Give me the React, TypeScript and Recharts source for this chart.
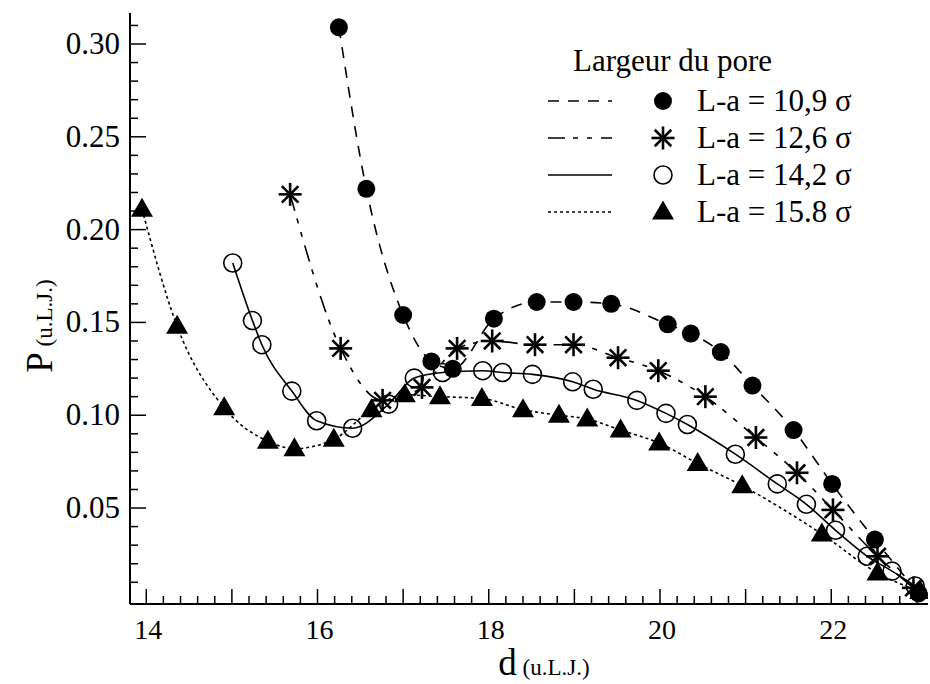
import { ComposedChart, Line, XAxis, YAxis } from 'recharts'

// L-a = 10,9 sigma (filled circles, dashed)
const d1 = [16.25, 16.57, 17.0, 17.33, 17.58, 18.06, 18.56, 18.99, 19.43, 20.09, 20.36, 20.71, 21.08, 21.56, 22.01, 22.51, 23.02]
const p1 = [0.309, 0.222, 0.154, 0.129, 0.125, 0.152, 0.161, 0.161, 0.160, 0.149, 0.144, 0.134, 0.116, 0.092, 0.063, 0.033, 0.004]

// L-a = 12,6 sigma (asterisks, dash-dot)
const d2 = [15.68, 16.27, 16.76, 17.22, 17.63, 18.04, 18.54, 18.99, 19.51, 19.98, 20.53, 21.12, 21.6, 22.02, 22.54, 22.96]
const p2 = [0.219, 0.136, 0.108, 0.115, 0.136, 0.14, 0.138, 0.138, 0.131, 0.124, 0.11, 0.088, 0.069, 0.049, 0.024, 0.007]

// L-a = 14,2 sigma (open circles, solid)
const d3 = [15.01, 15.24, 15.35, 15.7, 15.99, 16.41, 16.83, 17.13, 17.46, 17.93, 18.16, 18.51, 18.98, 19.22, 19.73, 20.07, 20.32, 20.88, 21.37, 21.71, 22.05, 22.42, 22.71, 22.98]
const p3 = [0.182, 0.151, 0.138, 0.113, 0.097, 0.093, 0.106, 0.12, 0.123, 0.124, 0.123, 0.122, 0.118, 0.114, 0.108, 0.101, 0.095, 0.079, 0.063, 0.052, 0.038, 0.024, 0.016, 0.008]

// L-a = 15.8 sigma (triangles, dotted)
const d4 = [13.95, 14.36, 14.91, 15.42, 15.73, 16.19, 16.63, 17.02, 17.43, 17.92, 18.4, 18.82, 19.15, 19.54, 19.99, 20.44, 20.96, 21.89, 22.54, 23.04]
const p4 = [0.211, 0.148, 0.104, 0.086, 0.082, 0.087, 0.103, 0.111, 0.11, 0.109, 0.103, 0.1, 0.098, 0.092, 0.085, 0.074, 0.062, 0.036, 0.015, 0.005]

const legendLabels = ['L-a = 10,9 σ', 'L-a = 12,6 σ', 'L-a = 14,2 σ', 'L-a = 15.8 σ']
const legendTitle = 'Largeur du pore'

// minor ticks: every 0.2 on d, every 0.01 on P
const xTicks = Array.from({ length: 46 }, (_, i) => Math.round((14 + i * 0.2) * 10) / 10)
const yTicks = Array.from({ length: 31 }, (_, i) => Math.round((0.01 + i * 0.01) * 100) / 100)

const serif = { fontFamily: "'Liberation Serif', 'Times New Roman', Times, serif" }

const toRows = (d: number[], p: number[]) => d.map((v, i) => ({ d: v, p: p[i] }))
const s1 = toRows(d1, p1)
const s2 = toRows(d2, p2)
const s3 = toRows(d3, p3)
const s4 = toRows(d4, p4)

const isMajorX = (v: number) => Math.abs(v - Math.round(v)) < 1e-6
const isMajorY = (v: number) => Math.abs(v * 20 - Math.round(v * 20)) < 1e-6

function BottomTick({ x, y, payload }: any) {
  const v = payload.value
  const major = isMajorX(v)
  const lab = major && Math.round(v) % 2 === 0
  return (
    <g>
      <line x1={x} y1={y} x2={x} y2={y - (major ? 15 : 8)} stroke="#000" strokeWidth={1.5} />
      {lab && (
        <text x={x + 2} y={y + 35} textAnchor="middle" fontSize={28} style={serif} fill="#000">
          {Math.round(v)}
        </text>
      )}
    </g>
  )
}

function TopTick({ x, y, payload }: any) {
  const major = isMajorX(payload.value)
  return <line x1={x} y1={y} x2={x} y2={y + (major ? 15 : 8)} stroke="#000" strokeWidth={1.5} />
}

function LeftTick({ x, y, payload }: any) {
  const v = payload.value
  const major = isMajorY(v)
  return (
    <g>
      <line x1={x} y1={y} x2={x + (major ? 16 : 8)} y2={y} stroke="#000" strokeWidth={1.5} />
      {major && (
        <text x={x - 10} y={y + 10} textAnchor="end" fontSize={31} style={serif} fill="#000">
          {v.toFixed(2)}
        </text>
      )}
    </g>
  )
}

function RightTick({ x, y, payload }: any) {
  const major = isMajorY(payload.value)
  return <line x1={x} y1={y} x2={x - (major ? 16 : 8)} y2={y} stroke="#000" strokeWidth={1.5} />
}

function FilledCircle({ cx, cy }: any) {
  return <circle cx={cx} cy={cy} r={9} fill="#000" />
}

function OpenCircle({ cx, cy }: any) {
  return <circle cx={cx} cy={cy} r={9} fill="none" stroke="#000" strokeWidth={1.6} />
}

function Star({ cx, cy }: any) {
  const r = 11.5
  const q = r * 0.72
  return (
    <g stroke="#000" strokeWidth={2.6}>
      <line x1={cx} y1={cy - r} x2={cx} y2={cy + r} />
      <line x1={cx - r} y1={cy} x2={cx + r} y2={cy} />
      <line x1={cx - q} y1={cy - q} x2={cx + q} y2={cy + q} />
      <line x1={cx - q} y1={cy + q} x2={cx + q} y2={cy - q} />
    </g>
  )
}

function Triangle({ cx, cy }: any) {
  return <polygon points={`${cx},${cy - 11.5} ${cx - 11},${cy + 7.5} ${cx + 11},${cy + 7.5}`} fill="#000" />
}

const dotFn = (Shape: any) => (props: any) => <Shape key={`${props.index}`} cx={props.cx} cy={props.cy} />

const dashes = ['11 9', '17 8 5 9 5 9', undefined, '3 3']
const shapes = [FilledCircle, Star, OpenCircle, Triangle]
const legendY = [101, 138, 175, 212]

export default function App() {
  return (
    <div style={{ position: 'absolute', left: 0, top: 0, width: 930, height: 684, background: '#fff' }}>
      <ComposedChart width={930} height={684} margin={{ top: 13, right: 2, bottom: 0, left: 0 }}>
        <XAxis
          xAxisId="b"
          dataKey="d"
          type="number"
          domain={[13.81, 23.13]}
          ticks={xTicks}
          interval={0}
          height={80}
          tickSize={0}
          tickMargin={0}
          tickLine={false}
          axisLine={{ stroke: '#000', strokeWidth: 2 }}
          tick={<BottomTick />}
          allowDataOverflow
        />
        <XAxis
          xAxisId="t"
          orientation="top"
          dataKey="d"
          type="number"
          domain={[13.81, 23.13]}
          ticks={xTicks}
          interval={0}
          height={0}
          tickSize={0}
          tickMargin={0}
          tickLine={false}
          axisLine={{ stroke: '#000', strokeWidth: 2 }}
          tick={<TopTick />}
          allowDataOverflow
        />
        <YAxis
          yAxisId="l"
          type="number"
          domain={[-0.0017, 0.3167]}
          ticks={yTicks}
          interval={0}
          width={130}
          tickSize={0}
          tickMargin={0}
          tickLine={false}
          axisLine={{ stroke: '#000', strokeWidth: 2 }}
          tick={<LeftTick />}
          allowDataOverflow
        />
        <YAxis
          yAxisId="r"
          orientation="right"
          type="number"
          domain={[-0.0017, 0.3167]}
          ticks={yTicks}
          interval={0}
          width={0}
          tickSize={0}
          tickMargin={0}
          tickLine={false}
          axisLine={{ stroke: '#000', strokeWidth: 2 }}
          tick={<RightTick />}
          allowDataOverflow
        />
        {[s4, s3, s2, s1].map((rows, k) => {
          const i = 3 - k
          return (
            <Line
              key={i}
              xAxisId="b"
              yAxisId="l"
              data={rows}
              dataKey="p"
              type="monotone"
              stroke="#000"
              strokeWidth={1.6}
              strokeDasharray={dashes[i]}
              dot={dotFn(shapes[i])}
              activeDot={false}
              isAnimationActive={false}
            />
          )
        })}
      </ComposedChart>

      <svg width={930} height={684} style={{ position: 'absolute', left: 0, top: 0, pointerEvents: 'none' }}>
        <text x={573} y={71} fontSize={31} style={serif} fill="#000">
          {legendTitle}
        </text>
        {legendLabels.map((lab, i) => {
          const Shape = shapes[i]
          const y = legendY[i]
          return (
            <g key={lab}>
              <line x1={548} y1={y} x2={612} y2={y} stroke="#000" strokeWidth={1.6} strokeDasharray={dashes[i]} />
              <Shape cx={663} cy={y} />
              <text x={697} y={y + 10} fontSize={31} style={serif} fill="#000">
                {lab}
              </text>
            </g>
          )
        })}
        <text x={544} y={675} textAnchor="middle" style={serif} fill="#000">
          <tspan fontSize={37}>d</tspan>
          <tspan fontSize={23}> (u.L.J.)</tspan>
        </text>
        <text x={52} y={326} transform="rotate(-90 52 326)" textAnchor="middle" style={serif} fill="#000">
          <tspan fontSize={37}>P</tspan>
          <tspan fontSize={23}> (u.L.J.)</tspan>
        </text>
      </svg>
    </div>
  )
}
